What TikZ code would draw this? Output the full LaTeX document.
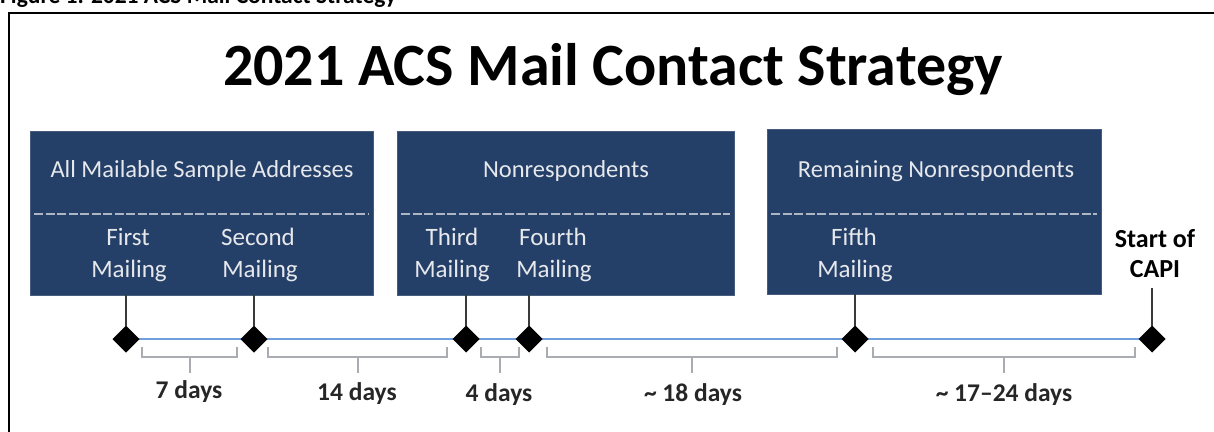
\documentclass[tikz,border=0pt]{standalone}
\usepackage{fontspec}
\setmainfont{Carlito}
\usetikzlibrary{shapes.geometric,backgrounds}
\definecolor{boxblue}{RGB}{37,64,104}
\definecolor{lineblue}{HTML}{6FA0DC}
\definecolor{brkgray}{HTML}{A9ADB2}
\definecolor{stemgray}{HTML}{3A3A3A}
\definecolor{boxtext}{HTML}{E6E8EC}
\tikzset{
  box/.style={fill=boxblue, draw=boxblue!85!white, line width=0.8pt, anchor=north west, inner sep=0pt, outer sep=0pt},
  head/.style={text=boxtext, anchor=base, inner sep=0pt, font=\fontsize{24.5}{27}\selectfont},
  mail/.style={text=boxtext, anchor=base, inner sep=0pt, font=\fontsize{25}{27}\selectfont},
  dayl/.style={text=black!85, anchor=base, inner sep=0pt, font=\fontsize{25.5}{27}\selectfont\bfseries},
  capi/.style={text=black, anchor=base, inner sep=0pt, font=\fontsize{26}{28}\selectfont\bfseries},
  mile/.style={diamond, fill=black, inner sep=0pt, minimum size=27pt, outer sep=0pt},
  stem/.style={draw=stemgray, line width=2.2pt},
  tl/.style={draw=lineblue, line width=1.6pt},
  brk/.style={draw=brkgray, line width=2pt},
  dots/.style={draw=boxtext!70!boxblue, line width=1.2pt, dash pattern=on 9pt off 2.5pt}
}
\begin{document}
\begin{tikzpicture}[x=1pt,y=-1pt]
\useasboundingbox (0,0) rectangle (1214,431);
% caption (cut at top in the reference)
\node[anchor=base west, inner sep=0pt, font=\fontsize{23.5}{26}\selectfont\bfseries] (cap) at (0,3.5) {Figure 1. 2021 ACS Mail Contact Strategy};
% frame
\draw[line width=2.2pt] (9,440) -- (9,13) -- (1225,13);
% title
\node[anchor=base, inner sep=0pt, font=\fontsize{60}{64}\selectfont\bfseries] (title) at (613,85) {2021 ACS Mail Contact Strategy};
% boxes
\node[box, minimum width=343pt, minimum height=164pt] (b1) at (30,131) {};
\node[box, minimum width=337pt, minimum height=164pt] (b2) at (397,131) {};
\node[box, minimum width=334pt, minimum height=165pt] (b3) at (767,129) {};
% headers
\node[head] (h1) at (202,177) {All Mailable Sample Addresses};
\node[head] (h2) at (566,177) {Nonrespondents};
\node[head] (h3) at (936,177) {Remaining Nonrespondents};
% dotted separators
\draw[dots] ([xshift=4pt]b1.west |- 0,214) -- ([xshift=-4pt]b1.east |- 0,214);
\draw[dots] ([xshift=4pt]b2.west |- 0,214) -- ([xshift=-4pt]b2.east |- 0,214);
\draw[dots] ([xshift=4pt]b3.west |- 0,214) -- ([xshift=-4pt]b3.east |- 0,214);
% mailing labels
\node[mail] (m1a) at (128,245) {First};
\node[mail] (m1b) at (129,277) {Mailing};
\node[mail] (m2a) at (258,245) {Second};
\node[mail] (m2b) at (260,277) {Mailing};
\node[mail] (m3a) at (452,245) {Third};
\node[mail] (m3b) at (452,277) {Mailing};
\node[mail] (m4a) at (553,245) {Fourth};
\node[mail] (m4b) at (554,277) {Mailing};
\node[mail] (m5a) at (854,245) {Fifth};
\node[mail] (m5b) at (855,277) {Mailing};
\node[capi] (c1) at (1155,247) {Start of};
\node[capi] (c2) at (1155,277) {CAPI};
\coordinate (capitop) at (1151,288);
% milestones
\node[mile] (d1) at (126,339) {};
\node[mile] (d2) at (254,339) {};
\node[mile] (d3) at (466,339) {};
\node[mile] (d4) at (529,339) {};
\node[mile] (d5) at (855,339) {};
\node[mile] (d6) at (1152,339) {};
\begin{scope}[on background layer]
\draw[tl] (d1.center) -- (d6.center);
\end{scope}
% stems
\draw[stem] (d1 |- b1.south) -- (d1);
\draw[stem] (d2 |- b1.south) -- (d2);
\draw[stem] (d3 |- b2.south) -- (d3);
\draw[stem] (d4 |- b2.south) -- (d4);
\draw[stem] (d5 |- b3.south) -- (d5);
\draw[stem] (d6 |- capitop) -- (d6);
% brackets
\draw[brk] (142,347) -- (142,357) -- (237,357) -- (237,347);
\draw[brk] (189.5,357) -- (189.5,373);
\draw[brk] (268,347) -- (268,357) -- (447,357) -- (447,347);
\draw[brk] (357.5,357) -- (357.5,373);
\draw[brk] (481,347) -- (481,357) -- (519,357) -- (519,347);
\draw[brk] (500,357) -- (500,373);
\draw[brk] (547,347) -- (547,357) -- (837,357) -- (837,347);
\draw[brk] (692,357) -- (692,373);
\draw[brk] (873,347) -- (873,357) -- (1135,357) -- (1135,347);
\draw[brk] (1004,357) -- (1004,373);
% day labels
\node[dayl] (l1) at (189,398) {7 days};
\node[dayl] (l2) at (357,400) {14 days};
\node[dayl] (l3) at (499,401) {4 days};
\node[dayl] (l4) at (693,401) {\char"007E\ 18 days};
\node[dayl] (l5) at (1004,401) {\char"007E\ 17–24 days};
\end{tikzpicture}
\end{document}
